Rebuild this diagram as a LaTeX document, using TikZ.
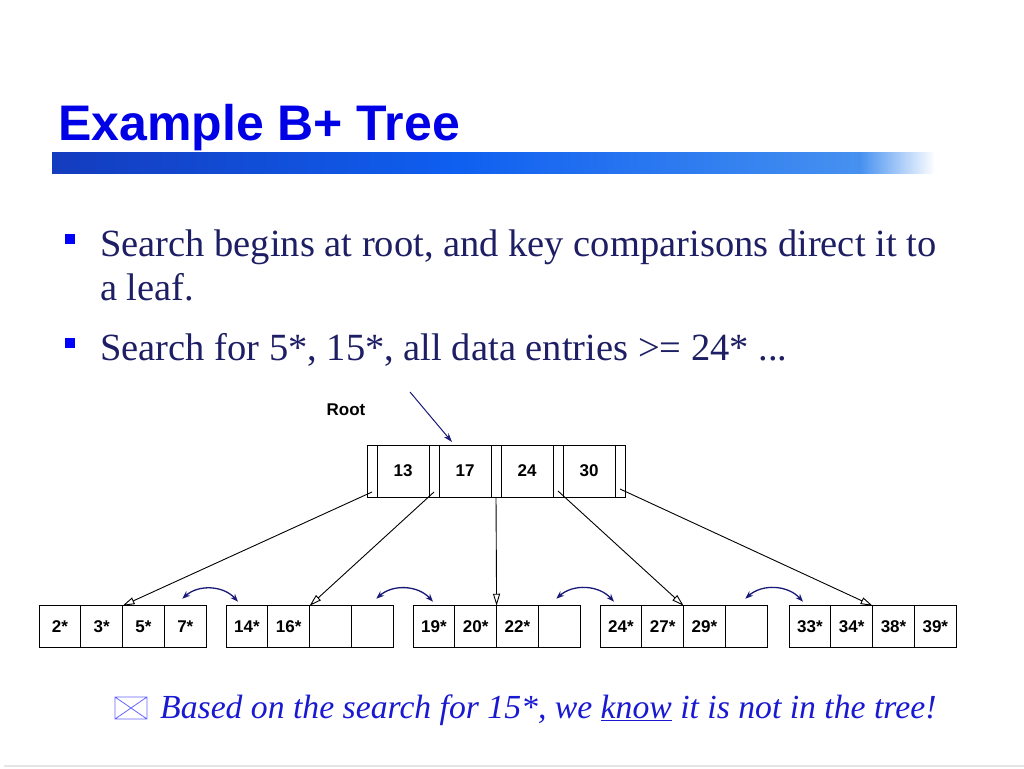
\documentclass[tikz,border=0pt]{standalone}
\usepackage{fontspec}
\setmainfont{Liberation Serif}
\setsansfont{Liberation Sans}
\usepackage{xcolor}
\usetikzlibrary{arrows.meta,positioning}
\definecolor{titleblue}{RGB}{0,0,230}
\definecolor{textnavy}{RGB}{30,30,100}
\definecolor{linkblue}{RGB}{25,25,120}
\definecolor{noteblue}{RGB}{25,25,210}
\definecolor{bardark}{RGB}{20,60,190}
\definecolor{barmid}{RGB}{15,95,240}
\definecolor{barlight}{RGB}{70,145,240}

\begin{document}
\begin{tikzpicture}[x=1pt,y=-1pt,
  every node/.style={font=\sffamily\bfseries\fontsize{17}{19}\selectfont},
  key/.style={draw, line width=1pt, minimum width=52pt, minimum height=52pt,
              inner sep=0pt, outer sep=0pt},
  ptr/.style={key, minimum width=10pt},
  cell/.style={draw, line width=1pt, minimum width=41.8pt, minimum height=41.5pt,
               inner sep=0pt, outer sep=0pt},
  child/.style={-{Triangle[open,length=12pt,width=7pt]}, line width=0.9pt},
  sib/.style={{Stealth[length=8pt,width=6pt]}-{Stealth[length=8pt,width=6pt]},
              linkblue, line width=1.3pt, bend left=45},
  body/.style={font=\fontsize{38.5}{44}\selectfont, text=textnavy,
               anchor=base west, inner sep=0pt},
  bullet/.style={fill=blue, minimum size=10pt, inner sep=0pt}
]
\useasboundingbox (0,0) rectangle (1024,768);

% title and brush bar
\node[anchor=base west, inner sep=0pt, text=titleblue,
      font=\sffamily\bfseries\fontsize{50}{56}\selectfont] (title) at (58,140) {Example B+ Tree};
\shade[left color=bardark, right color=barlight, middle color=barmid] (52,152) rectangle (860,173);
\shade[left color=barlight, right color=white] (860,152) rectangle (935,173);

% bullets
\node[bullet] (dot1) at (70,239) {};
\node[body] (line1) at (100,256) {Search begins at root, and key comparisons direct it to};
\node[body] (line2) at (100,300) {a leaf.};
\node[bullet] (dot2) at (70,343) {};
\node[body] (line3) at (100,360) {Search for 5*, 15*, all data entries >= 24* ...};

% root
\node[ptr] (p0) at (372,471) {};
\node[key, right=0pt of p0] (k1) {13};
\node[ptr, right=0pt of k1] (p1) {};
\node[key, right=0pt of p1] (k2) {17};
\node[ptr, right=0pt of k2] (p2) {};
\node[key, right=0pt of p2] (k3) {24};
\node[ptr, right=0pt of k3] (p3) {};
\node[key, right=0pt of p3] (k4) {30};
\node[ptr, right=0pt of k4] (p4) {};
\node (rootlbl) at (346,410) {Root};
\coordinate (rootin) at (410,392);
\draw[-{Stealth[length=9pt,width=6pt]}, linkblue, line width=1pt]
  (rootin) -- ([xshift=13pt,yshift=3pt]k2.north west);

% leaves
\node[cell] (a1) at (59.9,626.5) {2*};
\node[cell, right=0pt of a1] (a2) {3*};
\node[cell, right=0pt of a2] (a3) {5*};
\node[cell, right=0pt of a3] (a4) {7*};

\node[cell] (b1) at (246.9,626.5) {14*};
\node[cell, right=0pt of b1] (b2) {16*};
\node[cell, right=0pt of b2] (b3) {};
\node[cell, right=0pt of b3] (b4) {};

\node[cell] (c1) at (433.9,626.5) {19*};
\node[cell, right=0pt of c1] (c2) {20*};
\node[cell, right=0pt of c2] (c3) {22*};
\node[cell, right=0pt of c3] (c4) {};

\node[cell] (d1) at (620.9,626.5) {24*};
\node[cell, right=0pt of d1] (d2) {27*};
\node[cell, right=0pt of d2] (d3) {29*};
\node[cell, right=0pt of d3] (d4) {};

\node[cell] (e1) at (809.9,626.5) {33*};
\node[cell, right=0pt of e1] (e2) {34*};
\node[cell, right=0pt of e2] (e3) {38*};
\node[cell, right=0pt of e3] (e4) {39*};

% child pointers
\draw[child] ([yshift=5pt]p0.south) -- (a2.north east);
\draw[child] ([yshift=5pt]p1.south) -- (b2.north east);
\draw[child] (p2.south) -- (c2.north east);
\draw[child] ([yshift=6pt]p3.south) -- (d2.north east);
\draw[child] ([yshift=8pt]p4.south) -- (e2.north east);

% sibling links
\draw[sib] ([xshift=-3pt,yshift=7pt]a4.north) to ([xshift=12pt,yshift=4pt]b1.north west);
\draw[sib] ([xshift=4pt,yshift=7pt]b4.north) to ([xshift=20pt,yshift=4pt]c1.north west);
\draw[sib] ([xshift=-3pt,yshift=7pt]c4.north) to ([xshift=14pt,yshift=4pt]d1.north west);
\draw[sib] ([xshift=-1pt,yshift=7pt]d4.north) to ([xshift=14pt,yshift=4pt]e1.north west);

% note
\draw[blue!60, line width=0.8pt] (115,697) rectangle (147,719)
  (115,697) -- (147,719) (147,697) -- (115,719);
\node[anchor=base west, inner sep=0pt, text=noteblue,
      font=\itshape\fontsize{33.7}{38}\selectfont] (note) at (160,718)
  {Based on the search for 15*, we \underline{know} it is not in the tree!};
\draw[gray!20, line width=1.5pt] (4,766) -- (1024,766);
\end{tikzpicture}
\end{document}
